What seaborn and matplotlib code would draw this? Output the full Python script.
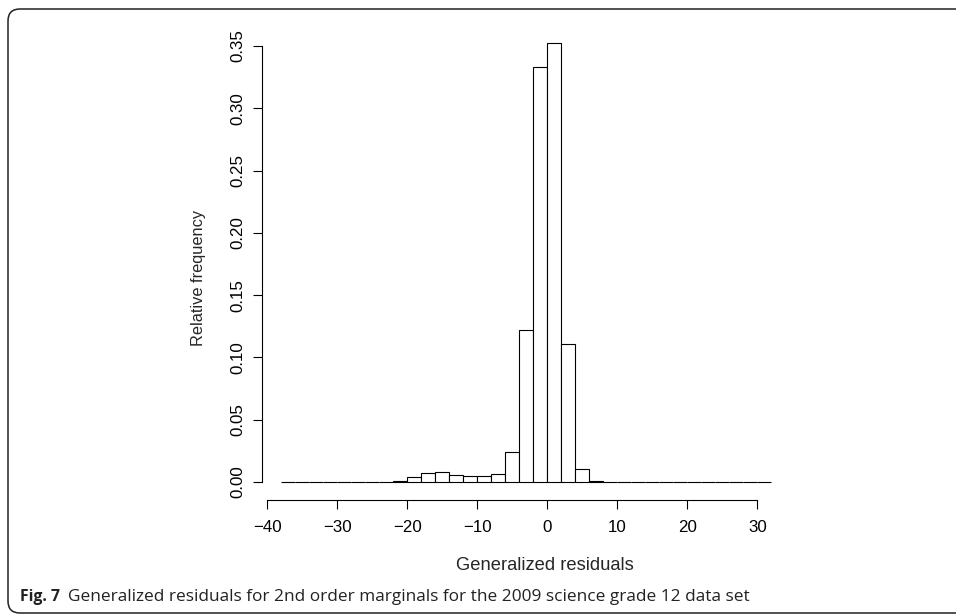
import numpy as np
import matplotlib
matplotlib.use("Agg")
import matplotlib.pyplot as plt
import matplotlib.transforms as mtransforms
from matplotlib import font_manager
from matplotlib.patches import FancyBboxPatch
import seaborn as sns

# Histogram of generalized residuals (bin width 2, from -38 to 32)
bin_edges = list(range(-38, 33, 2))
rel_freq = [
    0.0001, 0.0001, 0.0001, 0.0001, 0.0001, 0.0001, 0.0002, 0.0003,   # -38 .. -24
    0.0012, 0.0043, 0.0073, 0.0077, 0.0058, 0.0050, 0.0050, 0.0062,   # -22 .. -8
    0.0238, 0.1218, 0.3331, 0.3524, 0.1108, 0.0102, 0.0012, 0.0003,   # -6 .. 8
    0.0002, 0.0002, 0.0001, 0.0002, 0.0001, 0.0001, 0.0002, 0.0001,   # 10 .. 24
    0.0001, 0.0002, 0.0001,                                           # 26 .. 30
]
x_ticks = [-40, -30, -20, -10, 0, 10, 20, 30]
y_ticks = [0.00, 0.05, 0.10, 0.15, 0.20, 0.25, 0.30, 0.35]
x_label = "Generalized residuals"
y_label = "Relative frequency"
caption_head = "Fig. 7"
caption_body = "Generalized residuals for 2nd order marginals for the 2009 science grade 12 data set"

bin_mids = [(a + b) / 2 for a, b in zip(bin_edges[:-1], bin_edges[1:])]

sns.set_style("ticks")
plt.rcParams["font.family"] = ["Liberation Sans", "DejaVu Sans"]


def pick_font(names):
    for n in names:
        try:
            font_manager.findfont(n, fallback_to_default=False)
            return n
        except Exception:
            pass
    return "DejaVu Sans"


cap_font = pick_font(["Liberation Sans Narrow", "Open Sans", "Lato"])

W, H = 956, 616
fig = plt.figure(figsize=(W / 100, H / 100), dpi=100)
ax = fig.add_axes([261.7 / W, 1 - 499.6 / H, (790.9 - 261.7) / W, (499.6 - 25.5) / H])

sns.histplot(x=bin_mids, weights=rel_freq, bins=bin_edges, stat="count",
             color="white", edgecolor="black", linewidth=0.8, alpha=1, ax=ax)

ax.set_xlim(-40.8, 34.8)
ax.set_ylim(-0.0141, 0.3665)
ax.set_xticks(x_ticks)
ax.set_yticks(y_ticks)
ax.set_yticklabels([f"{v:.2f}" for v in y_ticks])
for s in ["top", "right"]:
    ax.spines[s].set_visible(False)
ax.spines["left"].set_bounds(0, 0.35)
ax.spines["bottom"].set_bounds(-40, 30)
for s in ["left", "bottom"]:
    ax.spines[s].set_linewidth(0.8)
    ax.spines[s].set_color("black")
ax.tick_params(axis="both", direction="out", length=6.5, width=0.8, color="black",
               labelsize=12.2, labelcolor="black", bottom=True, left=True)
ax.tick_params(axis="x", pad=8)
ax.tick_params(axis="y", pad=5, labelrotation=90)
for lab in ax.get_yticklabels():
    lab.set_va("center")
ax.set_ylabel("")
ax.set_xlabel("")

# axis titles placed at measured positions
fig.text(545 / W, 1 - 570 / H, x_label, ha="center", va="baseline", fontsize=13.2)
fig.text(198 / W, 1 - 278 / H, y_label, ha="center", va="center", rotation=90, fontsize=11.8)

# caption, fitted to the measured widths
fig.canvas.draw()
r = fig.canvas.get_renderer()
head = fig.text(20 / W, 1 - 601 / H, caption_head, fontweight="bold", fontsize=11,
                family=cap_font, va="baseline", color="#222222")
body = fig.text(68 / W, 1 - 601 / H, caption_body, fontsize=11,
                family=cap_font, va="baseline", color="#222222")
for t, target in [(head, 40), (body, 683)]:
    w = t.get_window_extent(renderer=r).width
    t.set_fontsize(11 * target / w)

# rounded frame around the panel
px = mtransforms.Affine2D().scale(1 / W, 1 / H) + fig.transFigure
frame = FancyBboxPatch((8, H - 613), 980, 613 - 9,
                       boxstyle="round,pad=0,rounding_size=12",
                       transform=px, fill=False, edgecolor="#222222", linewidth=1.1)
fig.patches.append(frame)

fig.savefig("out.png", dpi=100)
